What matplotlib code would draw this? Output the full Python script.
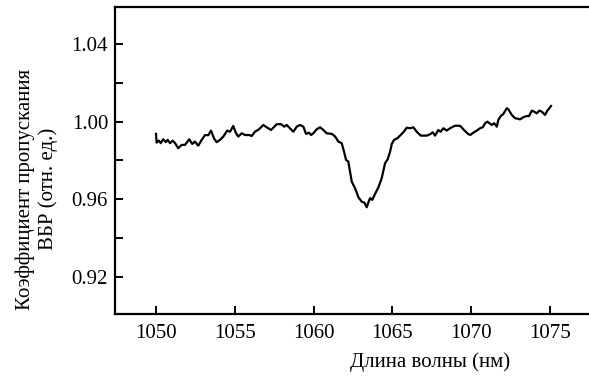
import matplotlib
matplotlib.use("Agg")
import matplotlib.pyplot as plt

plt.rcParams['font.family'] = ['Liberation Serif', 'DejaVu Serif']

# wavelength (nm)
wavelength = [
    1050.00, 1050.04, 1050.19, 1050.30, 1050.46, 1050.62, 1050.74, 1050.89, 1051.06, 1051.21,
    1051.41, 1051.63, 1051.84, 1052.11, 1052.30, 1052.47, 1052.68, 1052.90, 1053.11, 1053.32,
    1053.49, 1053.68, 1053.85, 1054.06, 1054.27, 1054.52, 1054.70, 1054.90, 1055.08, 1055.22,
    1055.44, 1055.65, 1055.92, 1056.07, 1056.28, 1056.54, 1056.81, 1057.02, 1057.30, 1057.66,
    1057.93, 1058.14, 1058.29, 1058.50, 1058.71, 1058.93, 1059.14, 1059.35, 1059.52, 1059.71,
    1059.84, 1059.98, 1060.20, 1060.41, 1060.62, 1060.83, 1061.15, 1061.36, 1061.57, 1061.78,
    1061.93, 1062.06, 1062.20, 1062.31, 1062.42, 1062.63, 1062.84, 1063.05, 1063.22, 1063.37,
    1063.47, 1063.58, 1063.72, 1063.94, 1064.11, 1064.32, 1064.53, 1064.70, 1064.85, 1064.96,
    1065.10, 1065.31, 1065.48, 1065.69, 1065.91, 1066.12, 1066.33, 1066.54, 1066.80, 1067.18,
    1067.39, 1067.56, 1067.70, 1067.91, 1068.06, 1068.23, 1068.45, 1068.65, 1068.97, 1069.29,
    1069.54, 1069.82, 1069.95, 1070.13, 1070.35, 1070.56, 1070.73, 1070.88, 1071.02, 1071.15,
    1071.30, 1071.45, 1071.62, 1071.72, 1071.87, 1072.04, 1072.25, 1072.35, 1072.57, 1072.78,
    1073.10, 1073.31, 1073.52, 1073.67, 1073.84, 1073.98, 1074.16, 1074.32, 1074.47, 1074.58,
    1074.68, 1074.83, 1075.00, 1075.06,
]

# transmission coefficient (rel. units)
transmission = [
    0.9937, 0.9892, 0.9902, 0.9889, 0.9909, 0.9894, 0.9906, 0.9889, 0.9902, 0.9889,
    0.9863, 0.9880, 0.9880, 0.9909, 0.9885, 0.9897, 0.9876, 0.9906, 0.9931, 0.9930,
    0.9954, 0.9914, 0.9894, 0.9906, 0.9923, 0.9954, 0.9948, 0.9978, 0.9940, 0.9923,
    0.9940, 0.9931, 0.9931, 0.9926, 0.9948, 0.9961, 0.9983, 0.9971, 0.9957, 0.9987,
    0.9987, 0.9974, 0.9983, 0.9966, 0.9948, 0.9974, 0.9983, 0.9974, 0.9937, 0.9943,
    0.9931, 0.9940, 0.9961, 0.9971, 0.9957, 0.9940, 0.9937, 0.9924, 0.9897, 0.9889,
    0.9845, 0.9802, 0.9794, 0.9742, 0.9690, 0.9656, 0.9610, 0.9587, 0.9582, 0.9558,
    0.9582, 0.9605, 0.9596, 0.9634, 0.9661, 0.9708, 0.9785, 0.9806, 0.9845, 0.9885,
    0.9906, 0.9914, 0.9928, 0.9945, 0.9969, 0.9966, 0.9971, 0.9948, 0.9928, 0.9928,
    0.9935, 0.9945, 0.9928, 0.9957, 0.9948, 0.9966, 0.9954, 0.9966, 0.9979, 0.9979,
    0.9957, 0.9935, 0.9932, 0.9943, 0.9954, 0.9966, 0.9971, 0.9992, 1.0000, 0.9992,
    0.9983, 0.9992, 0.9974, 1.0009, 1.0029, 1.0040, 1.0069, 1.0064, 1.0035, 1.0018,
    1.0012, 1.0023, 1.0029, 1.0029, 1.0057, 1.0052, 1.0043, 1.0057, 1.0052, 1.0043,
    1.0035, 1.0057, 1.0074, 1.0081,
]

x_ticks = [1050, 1055, 1060, 1065, 1070, 1075]
x_tick_labels = ["1050", "1055", "1060", "1065", "1070", "1075"]
y_ticks = [0.92, 0.94, 0.96, 0.98, 1.00, 1.02, 1.04]
y_tick_labels = ["0.92", "", "0.96", "", "1.00", "", "1.04"]

x_label = "Длина волны (нм)"
y_label = "Коэффициент пропускания\nВБР (отн. ед.)"

W, H = 589, 379
fig = plt.figure(figsize=(W / 100, H / 100), dpi=100)
ax = fig.add_axes([115 / W, (H - 314) / H, (W - 115) / W, (314 - 7) / H])

ax.plot(wavelength, transmission, color='black', linewidth=1.6)

ax.set_xlim(1047.4, 1077.47)
ax.set_ylim(0.9007, 1.0592)

ax.set_xticks(x_ticks)
ax.set_xticklabels(x_tick_labels)
ax.set_yticks(y_ticks)
ax.set_yticklabels(y_tick_labels)

ax.tick_params(axis='both', direction='in', length=6, width=1.4, labelsize=15, color='black')
ax.tick_params(axis='x', pad=7)
ax.tick_params(axis='y', pad=5)

for side in ['left', 'bottom', 'top']:
    ax.spines[side].set_linewidth(1.6)
ax.spines['right'].set_visible(False)

ax.set_xlabel(x_label, fontsize=15, va='top', ha='center')
ax.xaxis.set_label_coords((430 - 115) / (W - 115), (314 - 352) / (314 - 7))

ax.set_ylabel(y_label, fontsize=15, va='center', ha='center', linespacing=1.25)
ax.yaxis.set_label_coords((37 - 115) / (W - 115), (314 - 189) / (314 - 7))

fig.savefig('out.png', dpi=100)
